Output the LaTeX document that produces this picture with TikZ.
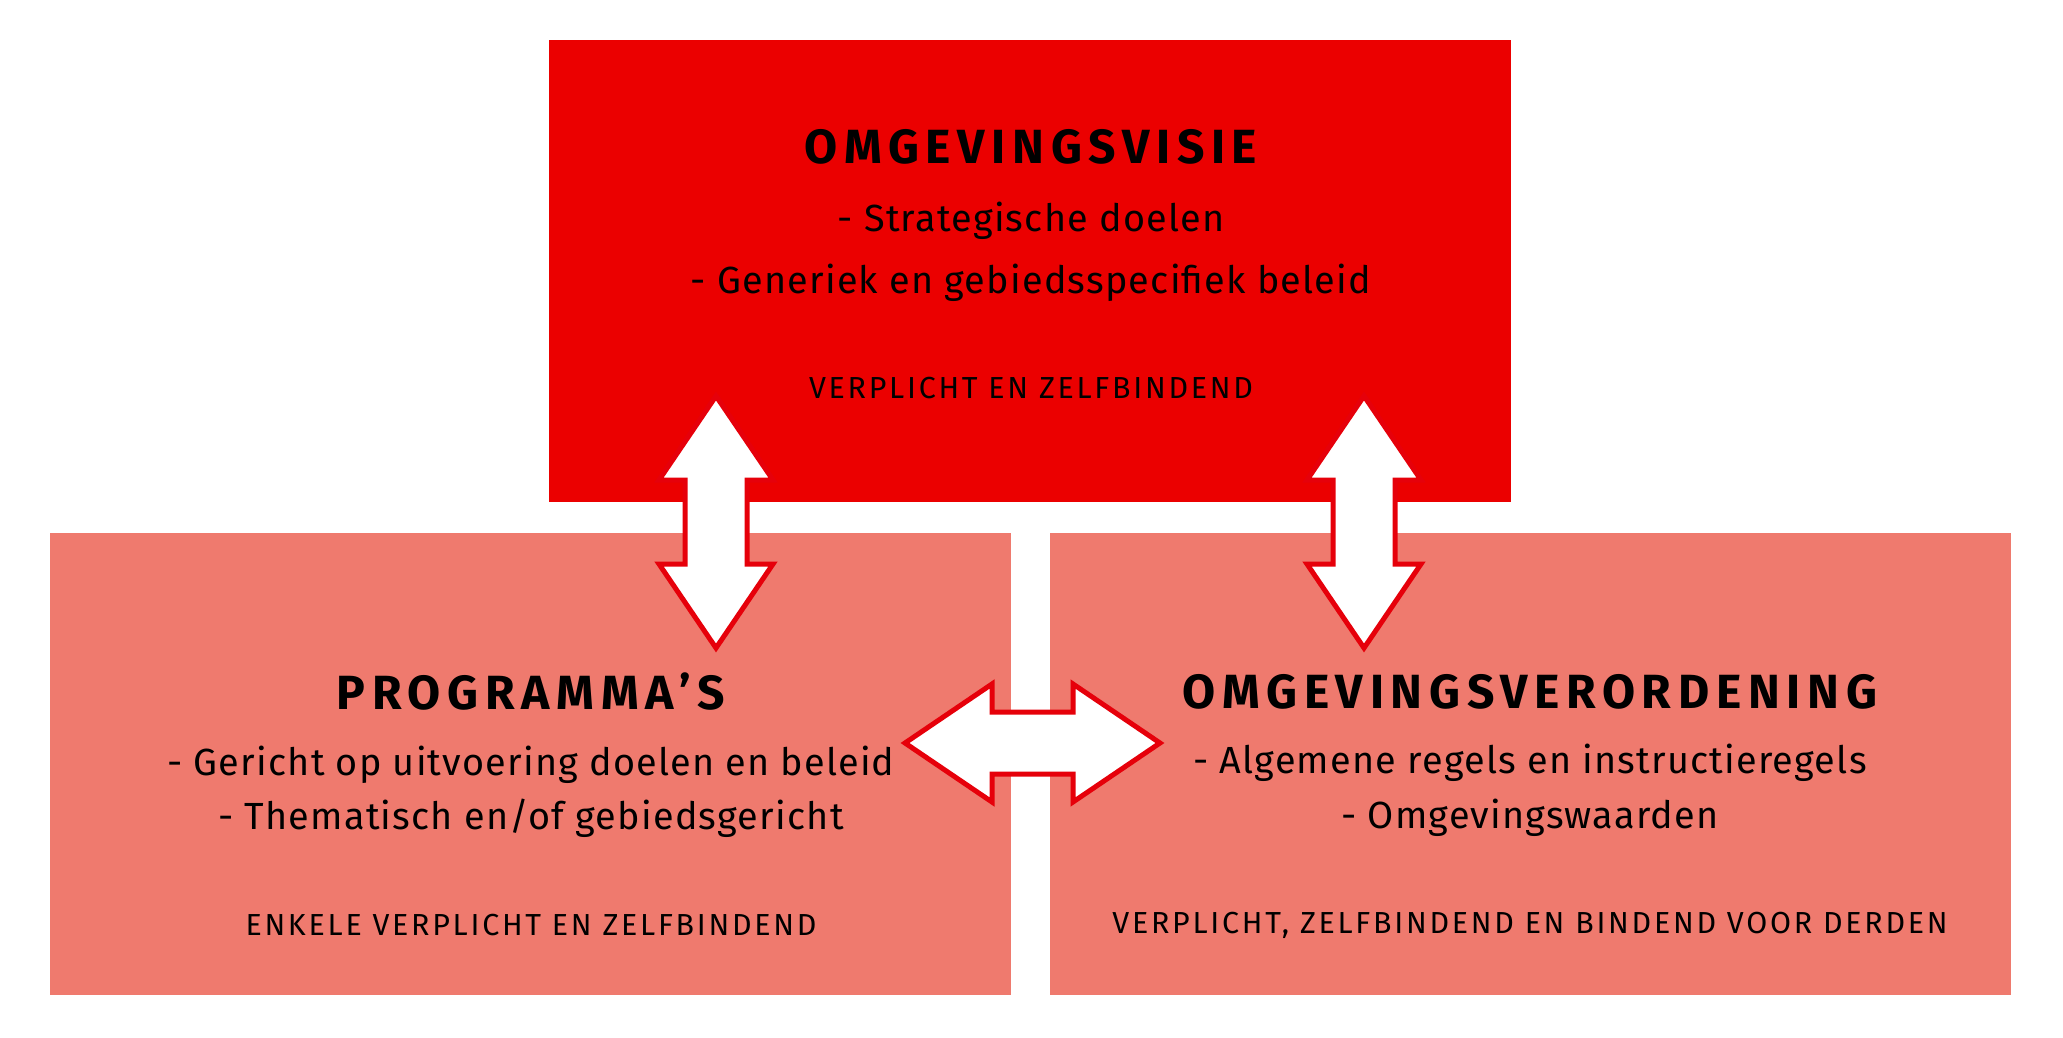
\documentclass[tikz,border=0pt]{standalone}
\usepackage{fontspec}
\setmainfont{Fira Sans}
\usetikzlibrary{calc}
\definecolor{topred}{RGB}{235,0,0}
\definecolor{salmon}{RGB}{239,122,110}
\definecolor{edgered}{RGB}{230,0,10}
\tikzset{
  topbox/.style={fill=topred, draw=none},
  lowbox/.style={fill=salmon, draw=none},
  bigarrow/.style={fill=white, draw=edgered, line width=2.5pt, line join=miter},
  titletext/.style={anchor=base, inner sep=0pt, font=\fontsize{24}{28}\selectfont\bfseries\addfontfeatures{LetterSpace=14}},
  bodytext/.style={anchor=base, inner sep=0pt, font=\fontsize{18.9}{22}\selectfont\addfontfeatures{LetterSpace=3.2}},
  smalltext/.style={anchor=base, inner sep=0pt, font=\fontsize{15.2}{18}\selectfont\addfontfeatures{LetterSpace=9}},
}
\begin{document}
\begin{tikzpicture}[x=0.5pt, y=-0.5pt]
\useasboundingbox (0,0) rectangle (2063,1038);
% boxes
\path[topbox] (549,40) rectangle (1511,502);
\path[lowbox] (50,533) rectangle (1011,995);
\path[lowbox] (1050,533) rectangle (2011,995);
% top texts
\node[titletext] (tTitle) at (1031,163) {OMGEVINGSVISIE};
\node[bodytext] (tL1) at (1031,232) {- Strategische doelen};
\node[bodytext] (tL2) at (1031,293) {- Generiek en gebiedsspecifiek beleid};
\node[smalltext] (tL3) at (1031,398) {VERPLICHT EN ZELFBINDEND};
% left texts
\node[titletext] (lTitle) at (531,709) {PROGRAMMA’S};
\node[bodytext] (lL1) at (531,775) {- Gericht op uitvoering doelen en beleid};
\node[bodytext] (lL2) at (531,829) {- Thematisch en/of gebiedsgericht};
\node[smalltext] (lL3) at (531,935) {ENKELE VERPLICHT EN ZELFBINDEND};
% right texts
\node[titletext] (rTitle) at (1530,708) {OMGEVINGSVERORDENING};
\node[bodytext] (rL1) at (1530,773) {- Algemene regels en instructieregels};
\node[bodytext] (rL2) at (1530,828) {- Omgevingswaarden};
\node[smalltext] (rL3) at (1530,933) {VERPLICHT, ZELFBINDEND EN BINDEND VOOR DERDEN};
% arrow end points
\coordinate (aT) at (716,396);
\coordinate (aB) at (716,648);
\coordinate (bT) at (1364,396);
\coordinate (bB) at (1364,648);
\coordinate (cL) at (905,743);
\coordinate (cR) at (1160,743);
% vertical arrows
\draw[bigarrow] (aT) -- ($(aT)+(57,84)$) -- ($(aT)+(31,84)$) -- ($(aB)+(31,-84)$) -- ($(aB)+(57,-84)$) -- (aB)
  -- ($(aB)+(-57,-84)$) -- ($(aB)+(-31,-84)$) -- ($(aT)+(-31,84)$) -- ($(aT)+(-57,84)$) -- cycle;
\draw[bigarrow] (bT) -- ($(bT)+(57,84)$) -- ($(bT)+(31,84)$) -- ($(bB)+(31,-84)$) -- ($(bB)+(57,-84)$) -- (bB)
  -- ($(bB)+(-57,-84)$) -- ($(bB)+(-31,-84)$) -- ($(bT)+(-31,84)$) -- ($(bT)+(-57,84)$) -- cycle;
% horizontal arrow
\draw[bigarrow] (cL) -- ($(cL)+(87,-59)$) -- ($(cL)+(87,-31)$) -- ($(cR)+(-87,-31)$) -- ($(cR)+(-87,-59)$) -- (cR)
  -- ($(cR)+(-87,59)$) -- ($(cR)+(-87,31)$) -- ($(cL)+(87,31)$) -- ($(cL)+(87,59)$) -- cycle;
\end{tikzpicture}
\end{document}
